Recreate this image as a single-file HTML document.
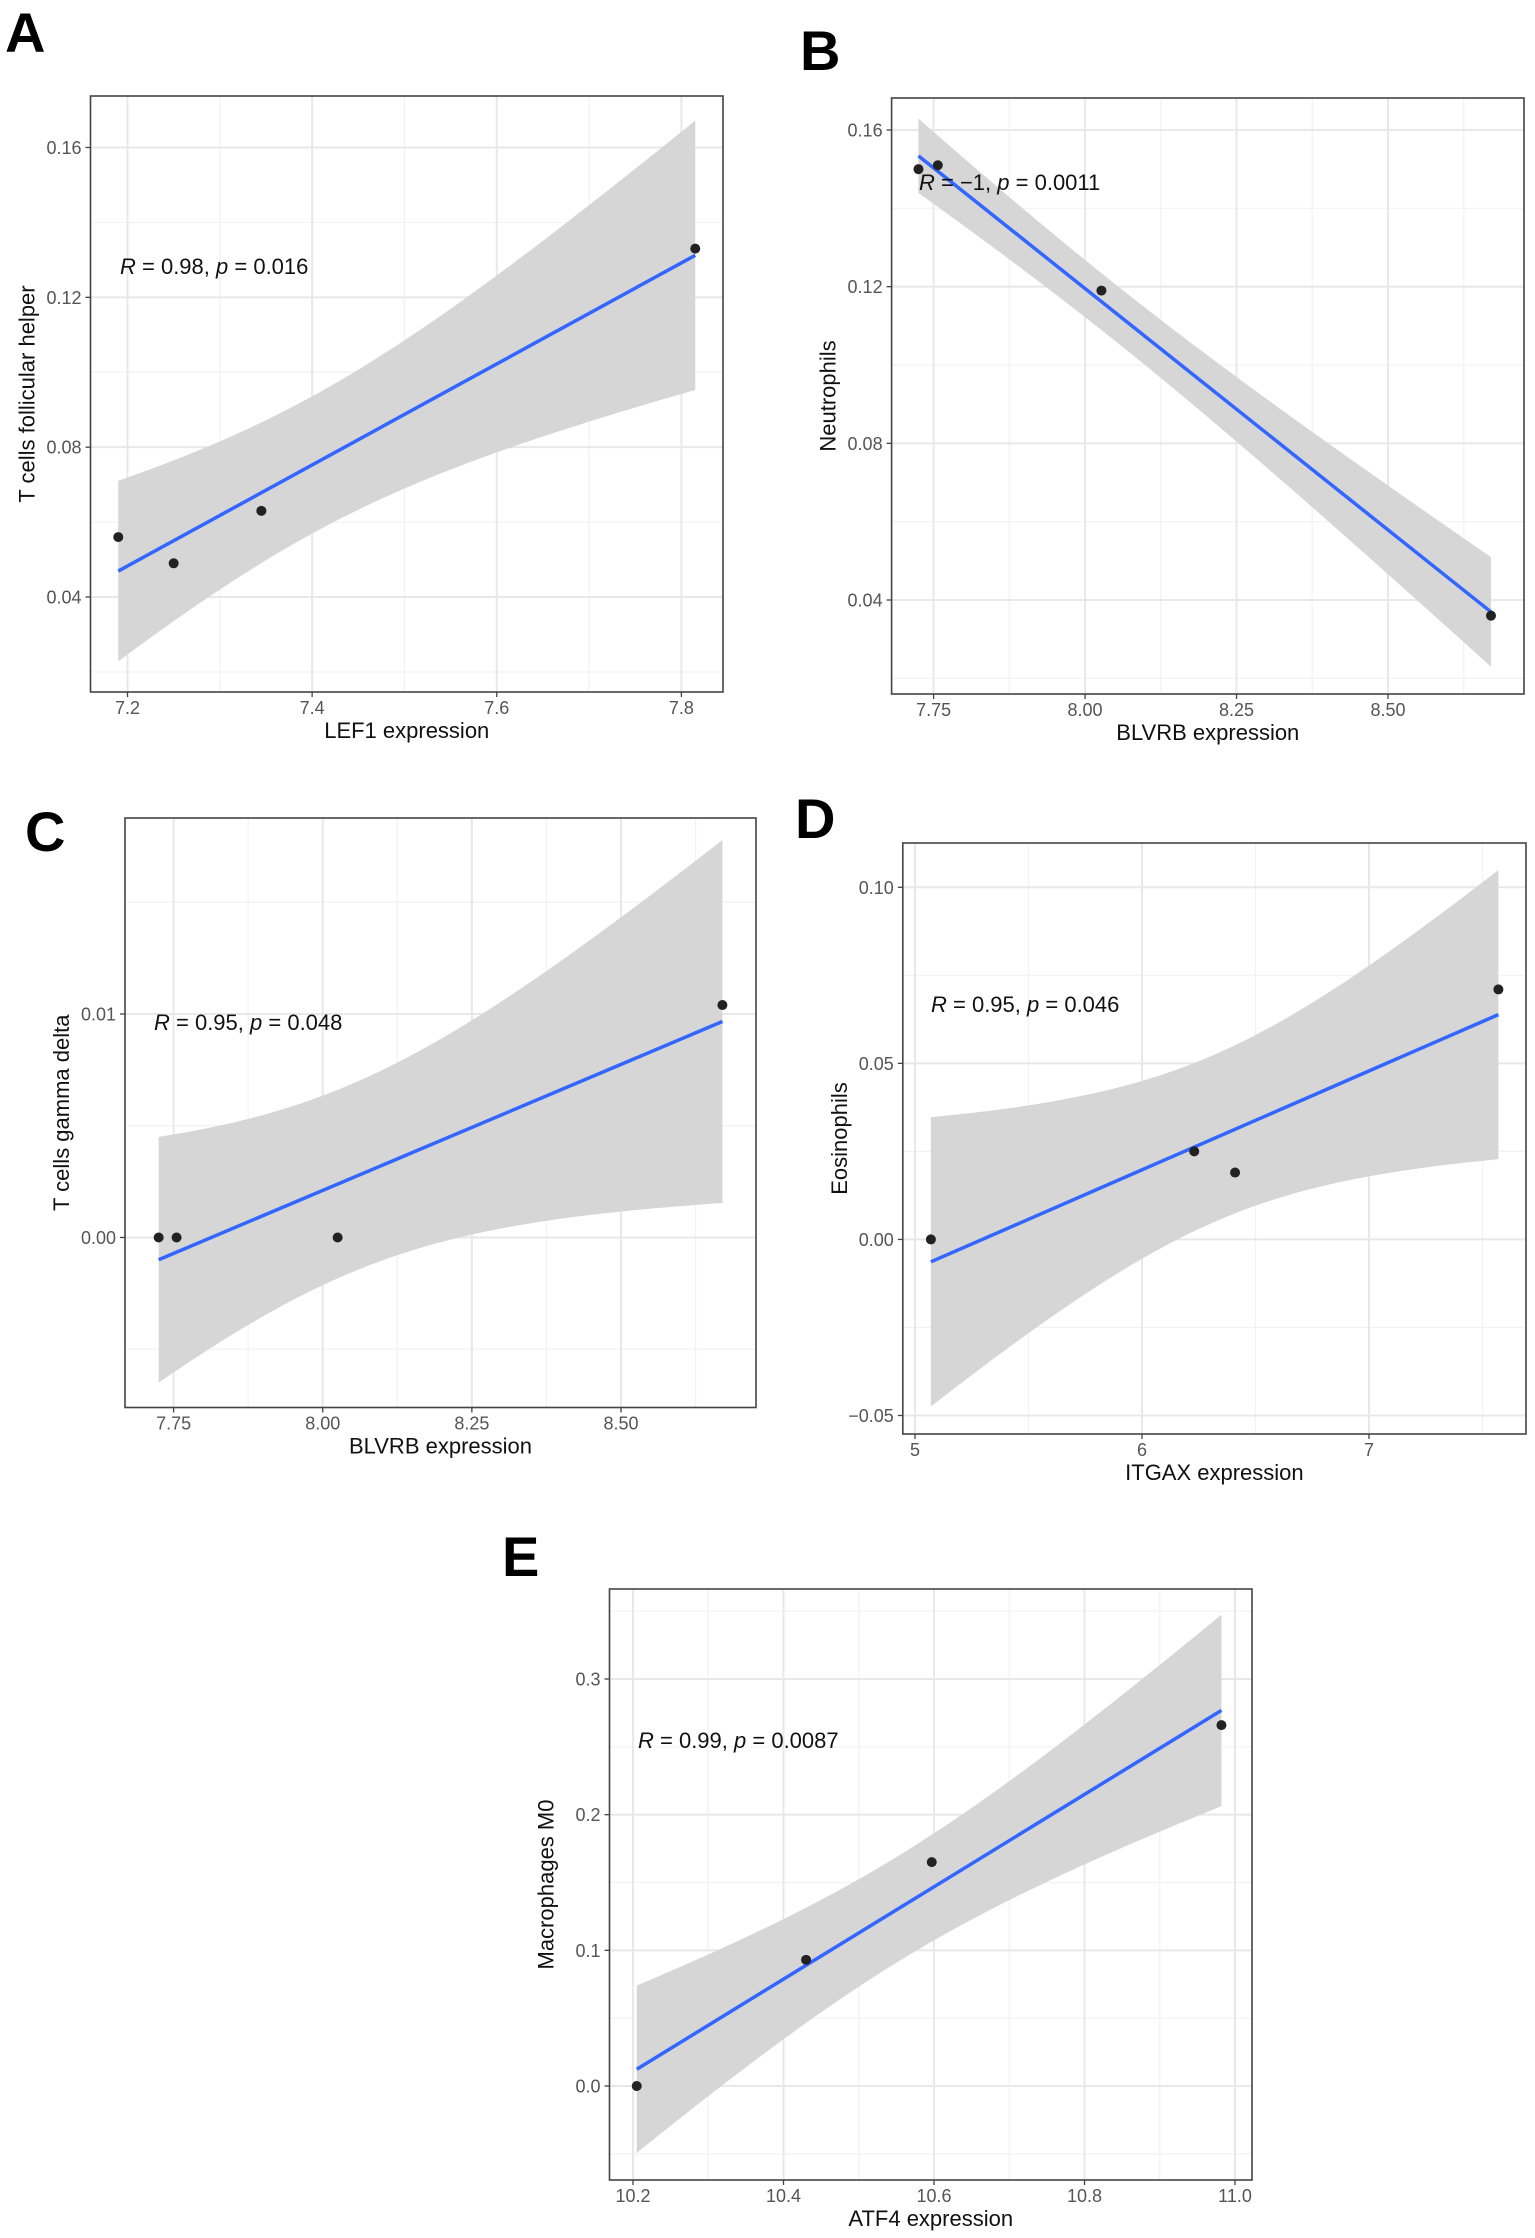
<!DOCTYPE html>
<html><head><meta charset="utf-8">
<style>
html,body{margin:0;padding:0;background:#fff;}
svg{display:block;}
text{font-family:"Liberation Sans",Arial,sans-serif;}
</style></head>
<body>
<svg id="fig" width="1535" height="2238" viewBox="0 0 1535 2238" xmlns="http://www.w3.org/2000/svg">
<rect x="0" y="0" width="1535" height="2238" fill="#fff"/>
</svg>
<script>
// ---- Panel A data ----
const aX = [7.19, 7.25, 7.345, 7.815];
const aY = [0.056, 0.049, 0.063, 0.133];
const aXTicks = [7.2, 7.4, 7.6, 7.8];
const aXTickLabels = ["7.2", "7.4", "7.6", "7.8"];
const aYTicks = [0.04, 0.08, 0.12, 0.16];
const aYTickLabels = ["0.04", "0.08", "0.12", "0.16"];
// ---- Panel B data ----
const bX = [7.725, 7.757, 8.027, 8.67];
const bY = [0.150, 0.151, 0.119, 0.036];
const bXTicks = [7.75, 8.0, 8.25, 8.5];
const bXTickLabels = ["7.75", "8.00", "8.25", "8.50"];
const bYTicks = [0.04, 0.08, 0.12, 0.16];
const bYTickLabels = ["0.04", "0.08", "0.12", "0.16"];
// ---- Panel C data ----
const cX = [7.725, 7.755, 8.025, 8.67];
const cY = [0.0, 0.0, 0.0, 0.0104];
const cXTicks = [7.75, 8.0, 8.25, 8.5];
const cXTickLabels = ["7.75", "8.00", "8.25", "8.50"];
const cYTicks = [0.0, 0.01];
const cYTickLabels = ["0.00", "0.01"];
// ---- Panel D data ----
const dX = [5.07, 6.23, 6.41, 7.57];
const dY = [0.0, 0.025, 0.019, 0.071];
const dXTicks = [5, 6, 7];
const dXTickLabels = ["5", "6", "7"];
const dYTicks = [-0.05, 0.0, 0.05, 0.10];
const dYTickLabels = ["\u22120.05", "0.00", "0.05", "0.10"];
// ---- Panel E data ----
const eX = [10.205, 10.43, 10.597, 10.982];
const eY = [0.0, 0.093, 0.165, 0.266];
const eXTicks = [10.2, 10.4, 10.6, 10.8, 11.0];
const eXTickLabels = ["10.2", "10.4", "10.6", "10.8", "11.0"];
const eYTicks = [0.0, 0.1, 0.2, 0.3];
const eYTickLabels = ["0.0", "0.1", "0.2", "0.3"];

const NS = "http://www.w3.org/2000/svg";
const svg = document.getElementById('fig');
function mk(tag, attrs, parent) {
  const e = document.createElementNS(NS, tag);
  for (const k in attrs) e.setAttribute(k, attrs[k]);
  (parent || svg).appendChild(e);
  return e;
}
const tTable = {1:12.706, 2:4.303, 3:3.182, 4:2.776, 5:2.571, 6:2.447, 8:2.306, 10:2.228};

function panel(cfg) {
  const g = mk('g', {});
  
  
  const L = cfg.box[0], T = cfg.box[1], R = cfg.box[2], B = cfg.box[3];
  const sx = v => cfg.xp[0] + (v - cfg.xv[0]) * (cfg.xp[1] - cfg.xp[0]) / (cfg.xv[1] - cfg.xv[0]);
  const sy = v => cfg.yp[0] + (v - cfg.yv[0]) * (cfg.yp[1] - cfg.yp[0]) / (cfg.yv[1] - cfg.yv[0]);
  const bg = mk('rect', {x: L, y: T, width: R - L, height: B - T, fill: '#fff'}, g);
  
  
  const grid = mk('g', {}, g);
  
  
  const xt = cfg.xt, yt = cfg.yt;
  const xs = xt[1] - xt[0], ys = yt[1] - yt[0];
  const xMinor = [], yMinor = [];
  for (let i = -1; i < xt.length; i++) xMinor.push(xt[0] + (i + 0.5) * xs);
  for (let i = -1; i < yt.length; i++) yMinor.push(yt[0] + (i + 0.5) * ys);
  xMinor.forEach(v => { const p = sx(v); if (p > L && p < R) mk('line', {x1: p, x2: p, y1: T, y2: B, stroke: '#f2f2f2', 'stroke-width': 1.2}, grid); });
  yMinor.forEach(v => { const p = sy(v); if (p > T && p < B) mk('line', {x1: L, x2: R, y1: p, y2: p, stroke: '#f2f2f2', 'stroke-width': 1.2}, grid); });
  xt.forEach(v => { const p = sx(v); mk('line', {x1: p, x2: p, y1: T, y2: B, stroke: '#e8e8e8', 'stroke-width': 2}, grid); });
  yt.forEach(v => { const p = sy(v); mk('line', {x1: L, x2: R, y1: p, y2: p, stroke: '#e8e8e8', 'stroke-width': 2}, grid); });
  const X = cfg.x, Y = cfg.y, n = X.length;
  const mx = X.reduce((a, b) => a + b, 0) / n, my = Y.reduce((a, b) => a + b, 0) / n;
  let sxx = 0, sxy = 0;
  for (let i = 0; i < n; i++) { sxx += (X[i] - mx) ** 2; sxy += (X[i] - mx) * (Y[i] - my); }
  const slope = sxy / sxx, icpt = my - slope * mx;
  let sse = 0;
  for (let i = 0; i < n; i++) sse += (Y[i] - icpt - slope * X[i]) ** 2;
  const s = Math.sqrt(sse / Math.max(n - 2, 1));
  const tv = tTable[n - 2] || 2.0;
  const x0 = Math.min(...X), x1 = Math.max(...X);
  const up = [], lo = [];
  for (let k = 0; k <= 80; k++) {
    const xv = x0 + (x1 - x0) * k / 80;
    const f = icpt + slope * xv;
    const se = s * Math.sqrt(1 / n + (xv - mx) ** 2 / sxx);
    up.push(sx(xv).toFixed(2) + ',' + sy(f + tv * se).toFixed(2));
    lo.unshift(sx(xv).toFixed(2) + ',' + sy(f - tv * se).toFixed(2));
  }
  const clipId = 'clip-' + cfg.name;
  const cp = mk('clipPath', {id: clipId}, g);
  mk('rect', {x: L, y: T, width: R - L, height: B - T}, cp);
  const band = mk('polygon', {points: up.concat(lo).join(' '), fill: '#d6d6d6', 'clip-path': 'url(#' + clipId + ')'}, g);
  
  
  const ln = mk('line', {x1: sx(x0), y1: sy(icpt + slope * x0), x2: sx(x1), y2: sy(icpt + slope * x1), stroke: '#3366ff', 'stroke-width': 3.5}, g);
  
  
  for (let i = 0; i < n; i++) {
    const c = mk('circle', {cx: sx(X[i]), cy: sy(Y[i]), r: 5, fill: '#222'}, g);
    
    
  }
  const bd = mk('rect', {x: L, y: T, width: R - L, height: B - T, fill: 'none', stroke: '#444', 'stroke-width': 1.6}, g);
  
  
  xt.forEach((v, i) => {
    const p = sx(v);
    mk('line', {x1: p, x2: p, y1: B, y2: B + 5, stroke: '#444', 'stroke-width': 1.3}, g);
    const t = mk('text', {x: p, y: B + 22, 'font-size': 18, fill: '#555', 'text-anchor': 'middle'}, g);
    t.textContent = cfg.xl[i];
    
    
  });
  yt.forEach((v, i) => {
    const p = sy(v);
    mk('line', {x1: L - 5, x2: L, y1: p, y2: p, stroke: '#444', 'stroke-width': 1.3}, g);
    const t = mk('text', {x: L - 9, y: p + 6.5, 'font-size': 18, fill: '#555', 'text-anchor': 'end'}, g);
    t.textContent = cfg.yl[i];
    
    
  });
  const xtl = mk('text', {x: (L + R) / 2, y: B + 46, 'font-size': 22, fill: '#111', 'text-anchor': 'middle'}, g);
  xtl.textContent = cfg.xtitle;
  
  
  const cy = (T + B) / 2, cxp = L - 56;
  const ytl = mk('text', {x: cxp, y: cy, 'font-size': 22, fill: '#111', 'text-anchor': 'middle', transform: 'rotate(-90 ' + cxp + ' ' + cy + ')'}, g);
  ytl.textContent = cfg.ytitle;
  
  
  const an = mk('text', {x: cfg.ann[0], y: cfg.ann[1], 'font-size': 22, fill: '#111'}, g);
  
  
  const parts = [['R', true], [' = ' + cfg.r + ', ', false], ['p', true], [' = ' + cfg.p, false]];
  parts.forEach(pt => { const ts = mk('tspan', pt[1] ? {'font-style': 'italic'} : {}, an); ts.textContent = pt[0]; });
  const lt = mk('text', {x: cfg.letter[0], y: cfg.letter[1], 'font-size': 56, 'font-weight': 'bold', fill: '#000'}, g);
  lt.textContent = cfg.letterText;
  
  
}

panel({name: 'panel-a', box: [90.5, 96, 723, 692], xp: [127.5, 681.4], xv: [7.2, 7.8], yp: [597, 147.5], yv: [0.04, 0.16],
  x: aX, y: aY, xt: aXTicks, xl: aXTickLabels, yt: aYTicks, yl: aYTickLabels,
  xtitle: 'LEF1 expression', ytitle: 'T cells follicular helper', ann: [120, 274], r: '0.98', p: '0.016', letter: [5, 52], letterText: 'A'});
panel({name: 'panel-b', box: [891.6, 98, 1524, 694], xp: [933.6, 1388], xv: [7.75, 8.5], yp: [600, 130], yv: [0.04, 0.16],
  x: bX, y: bY, xt: bXTicks, xl: bXTickLabels, yt: bYTicks, yl: bYTickLabels,
  xtitle: 'BLVRB expression', ytitle: 'Neutrophils', ann: [919, 190], r: '\u22121', p: '0.0011', letter: [800, 70], letterText: 'B'});
panel({name: 'panel-c', box: [125, 818, 756, 1407.5], xp: [173.6, 621], xv: [7.75, 8.5], yp: [1237.5, 1014], yv: [0, 0.01],
  x: cX, y: cY, xt: cXTicks, xl: cXTickLabels, yt: cYTicks, yl: cYTickLabels,
  xtitle: 'BLVRB expression', ytitle: 'T cells gamma delta', ann: [154, 1030], r: '0.95', p: '0.048', letter: [25, 851], letterText: 'C'});
panel({name: 'panel-d', box: [902.8, 843, 1526, 1434], xp: [915, 1369], xv: [5, 7], yp: [1415.5, 887.3], yv: [-0.05, 0.10],
  x: dX, y: dY, xt: dXTicks, xl: dXTickLabels, yt: dYTicks, yl: dYTickLabels,
  xtitle: 'ITGAX expression', ytitle: 'Eosinophils', ann: [931, 1012], r: '0.95', p: '0.046', letter: [795, 838], letterText: 'D'});
panel({name: 'panel-e', box: [609.5, 1589, 1252, 2180], xp: [633, 1235], xv: [10.2, 11.0], yp: [2086, 1679], yv: [0, 0.3],
  x: eX, y: eY, xt: eXTicks, xl: eXTickLabels, yt: eYTicks, yl: eYTickLabels,
  xtitle: 'ATF4 expression', ytitle: 'Macrophages M0', ann: [638, 1748], r: '0.99', p: '0.0087', letter: [502, 1576], letterText: 'E'});
</script>
</body></html>
